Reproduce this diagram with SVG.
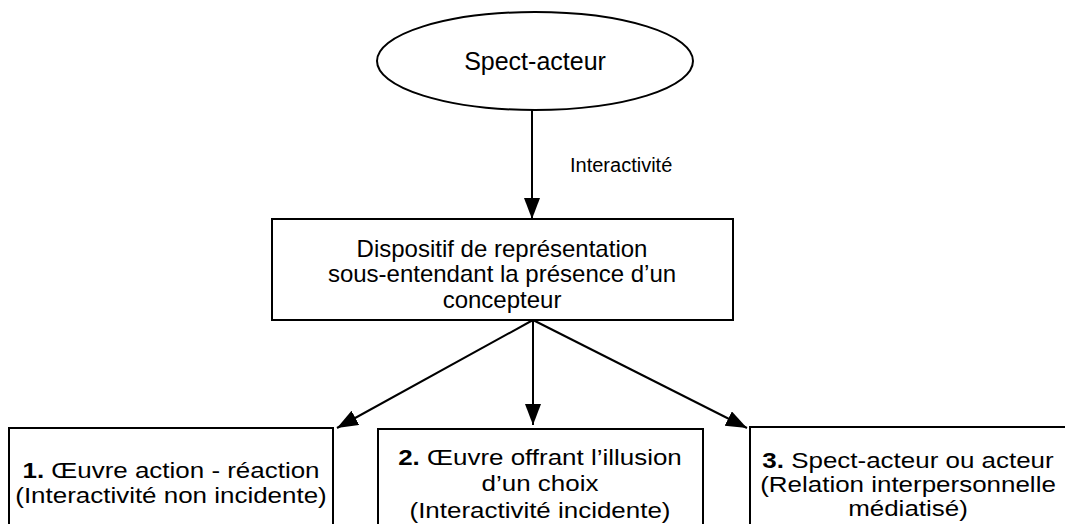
<svg xmlns="http://www.w3.org/2000/svg" width="1065" height="524" viewBox="0 0 1065 524">
<style>
.shape{fill:#fff;stroke:#000;stroke-width:2}
.t{font-family:"Liberation Sans",Arial,sans-serif;font-size:22px;fill:#000;text-anchor:middle}
.m{font-size:24px}
.s{font-family:"Liberation Sans",Arial,sans-serif;font-size:20px;fill:#000}
.edge{stroke:#000;stroke-width:2;fill:none}
</style>
<defs>
<marker id="ah" markerUnits="userSpaceOnUse" markerWidth="24" markerHeight="18" refX="21" refY="8" orient="auto">
<path d="M0,0 L21,8 L0,16 z" fill="#000"/>
</marker>
</defs>
<rect width="1065" height="524" fill="#fff"/>
<g id="connectors">
<line class="edge" x1="532" y1="110" x2="532" y2="219" marker-end="url(#ah)"/>
<text class="s" x="570" y="172">Interactivité</text>
<line class="edge" x1="533" y1="320" x2="337" y2="428" marker-end="url(#ah)"/>
<line class="edge" x1="533" y1="320" x2="533" y2="425" marker-end="url(#ah)"/>
<line class="edge" x1="533" y1="320" x2="747" y2="428" marker-end="url(#ah)"/>
</g>
<g id="spect-acteur">
<ellipse class="shape" cx="535" cy="61" rx="158" ry="49"/>
<text class="t" x="535" y="70" style="font-size:25px">Spect-acteur</text>
</g>
<g id="dispositif">
<rect class="shape" x="272" y="219" width="461" height="101"/>
<text class="t m" x="502" y="257">Dispositif de représentation</text>
<text class="t m" x="502" y="282">sous-entendant la présence d’un</text>
<text class="t m" x="502" y="308">concepteur</text>
</g>
<g id="oeuvre1">
<rect class="shape" x="9" y="428" width="324" height="120"/>
<g transform="translate(171,0) scale(1.18,1)">
<text class="t" x="0" y="478"><tspan font-weight="bold">1.</tspan> Œuvre action - réaction</text>
<text class="t" x="0" y="503">(Interactivité non incidente)</text>
</g>
</g>
<g id="oeuvre2">
<rect class="shape" x="378" y="429" width="325" height="120"/>
<g transform="translate(540,0) scale(1.18,1)">
<text class="t" x="0" y="465"><tspan font-weight="bold">2.</tspan> Œuvre offrant l’illusion</text>
<text class="t" x="0" y="491">d’un choix</text>
<text class="t" x="0" y="518">(Interactivité incidente)</text>
</g>
</g>
<g id="oeuvre3">
<rect class="shape" x="750" y="427" width="330" height="120"/>
<g transform="translate(908,0) scale(1.18,1)">
<text class="t" x="0" y="468"><tspan font-weight="bold">3.</tspan> Spect-acteur ou acteur</text>
<text class="t" x="0" y="492">(Relation interpersonnelle</text>
<text class="t" x="0" y="516">médiatisé)</text>
</g>
</g>
</svg>
